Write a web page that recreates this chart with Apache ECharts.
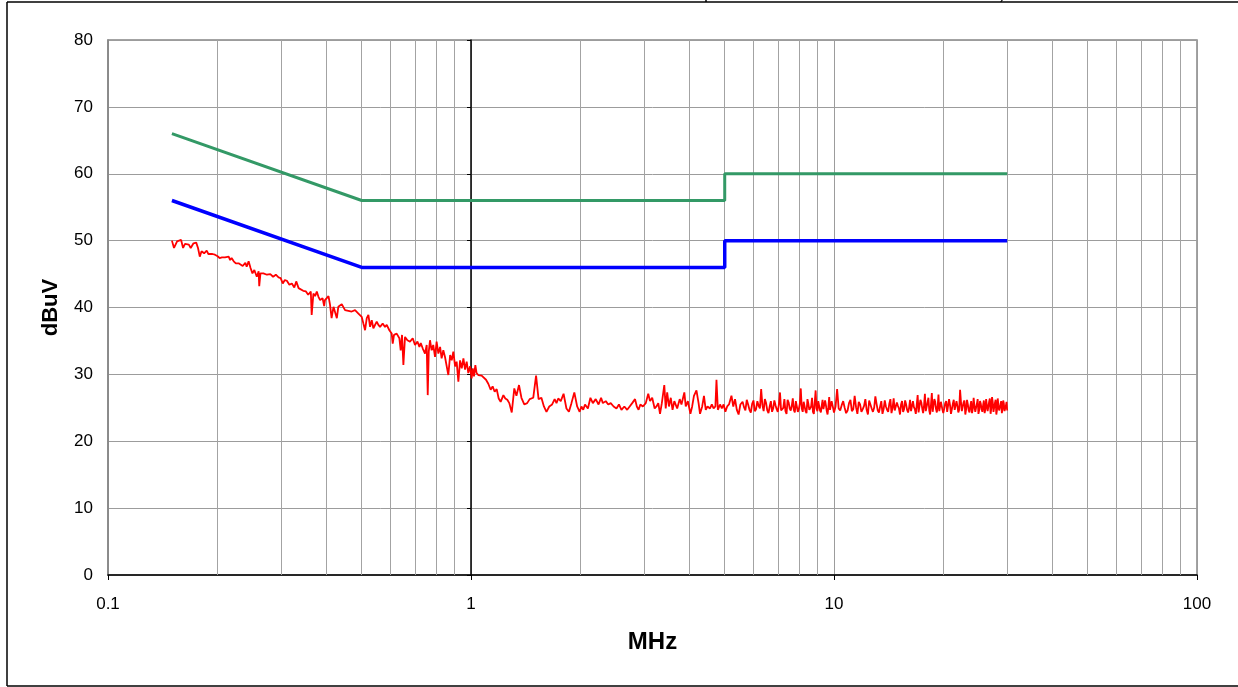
<!DOCTYPE html>
<html>
<head>
<meta charset="utf-8">
<title>dBuV vs MHz</title>
<script src="https://cdn.jsdelivr.net/npm/echarts@6/dist/echarts.min.js"></script>
<style>
    html, body { margin: 0; padding: 0; background: #fff; }
    #main { width: 1238px; height: 687px; }
</style>
</head>
<body>
<div id="main"></div>
<script>
// 轴刻度
const yMin = 0
const yMax = 80
const yStep = 10
const xMin = 0.1
const xMax = 100
const minorGrid = [0.2, 0.3, 0.4, 0.5, 0.6, 0.7, 0.8, 0.9, 2, 3, 4, 5, 6, 7, 8, 9, 20, 30, 40, 50, 60, 70, 80, 90]

// 限值线 (MHz, dBuV)
const qpLimit = [[0.15, 66], [0.5, 56], [5, 56], [5, 60], [30, 60]]
const avLimit = [[0.15, 56], [0.5, 46], [5, 46], [5, 50], [30, 50]]

// 实测曲线 0.15 - 0.44 MHz
const scanLow = [
    [0.150, 50.0], [0.152, 48.9], [0.155, 49.9], [0.159, 50.1], [0.161, 48.9], [0.163, 49.5],
    [0.167, 49.4], [0.169, 48.9], [0.172, 49.6], [0.175, 49.7], [0.177, 48.9], [0.179, 47.6],
    [0.181, 48.4], [0.184, 48.1], [0.187, 48.5], [0.189, 48.0], [0.191, 48.2], [0.194, 48.0],
    [0.197, 47.9], [0.200, 47.7], [0.203, 47.4], [0.206, 47.5], [0.210, 47.5], [0.215, 47.6],
    [0.217, 47.1], [0.219, 47.4], [0.222, 46.9], [0.225, 46.6], [0.229, 46.6], [0.231, 46.4],
    [0.235, 46.2], [0.239, 46.7], [0.241, 46.1], [0.244, 46.9], [0.245, 47.0], [0.247, 45.9],
    [0.250, 45.1], [0.253, 45.6], [0.257, 44.6], [0.260, 45.4], [0.261, 43.2], [0.263, 45.1],
    [0.268, 45.1], [0.274, 44.9], [0.280, 45.0], [0.285, 44.6], [0.290, 44.9], [0.295, 44.5],
    [0.299, 44.4], [0.303, 43.6], [0.307, 44.1], [0.311, 44.0], [0.316, 43.4], [0.321, 43.6],
    [0.326, 43.0], [0.330, 43.9], [0.335, 42.9], [0.339, 42.7], [0.345, 42.5], [0.351, 42.4],
    [0.356, 41.9], [0.362, 42.4], [0.364, 38.9], [0.368, 42.1], [0.372, 41.7], [0.376, 42.4],
    [0.380, 41.6], [0.384, 41.1], [0.390, 41.4], [0.394, 40.2], [0.396, 41.1], [0.400, 40.9],
    [0.405, 41.7], [0.409, 40.4], [0.413, 38.4], [0.418, 40.1], [0.422, 40.2], [0.427, 38.4],
    [0.431, 40.1], [0.436, 40.0]
]

// 实测曲线 0.44 - 1.3 MHz
const scanMid = [
    [0.4405, 40.5], [0.4498, 39.6], [0.4594, 39.5], [0.4692, 39.4], [0.4793, 39.6], [0.4896, 39.1],
    [0.500, 38.6], [0.5053, 37.6], [0.5107, 36.6], [0.5162, 38.4], [0.5216, 38.9], [0.5272, 37.1],
    [0.5328, 38.1], [0.5383, 36.9], [0.5499, 37.9], [0.5557, 37.4], [0.5617, 37.1], [0.5711, 37.6],
    [0.5797, 37.1], [0.5859, 37.4], [0.5958, 36.6], [0.6047, 36.1], [0.6086, 34.6], [0.6137, 35.9],
    [0.6242, 36.1], [0.6348, 35.4], [0.6402, 33.6], [0.6456, 35.9], [0.6512, 31.4], [0.658, 35.6],
    [0.668, 35.1], [0.679, 34.9], [0.691, 35.4], [0.701, 34.4], [0.712, 34.9], [0.721, 34.1],
    [0.727, 34.7], [0.736, 33.9], [0.747, 33.1], [0.755, 34.4], [0.760, 26.9], [0.765, 33.4],
    [0.771, 35.1], [0.779, 33.6], [0.787, 34.4], [0.796, 32.6], [0.804, 34.9], [0.813, 33.1],
    [0.822, 34.1], [0.830, 32.4], [0.839, 33.6], [0.848, 32.6], [0.857, 32.6], [0.866, 29.9],
    [0.876, 32.9], [0.885, 32.1], [0.894, 33.4], [0.904, 31.2], [0.913, 31.9], [0.923, 28.9],
    [0.933, 32.1], [0.943, 30.9], [0.953, 32.4], [0.963, 30.7], [0.973, 31.9], [0.983, 30.2],
    [0.994, 31.2], [1.004, 29.4], [1.011, 30.9], [1.019, 29.7], [1.028, 31.4], [1.036, 30.2],
    [1.047, 29.9], [1.057, 29.9], [1.070, 29.8], [1.081, 29.7], [1.100, 29.2], [1.116, 28.6],
    [1.133, 27.7], [1.147, 28.2], [1.162, 27.4], [1.177, 27.8], [1.192, 26.4], [1.207, 25.9],
    [1.228, 26.9], [1.243, 26.4], [1.259, 26.2], [1.275, 25.7]
]

// 实测曲线 1.3 - 5.5 MHz
const scanHigh = [
    [1.295, 24.3], [1.316, 27.9], [1.334, 26.8], [1.356, 28.4], [1.377, 26.5], [1.402, 25.5],
    [1.428, 25.7], [1.451, 26.3], [1.484, 26.5], [1.511, 29.8], [1.535, 26.3], [1.563, 26.5],
    [1.588, 25.2], [1.614, 24.4], [1.643, 25.2], [1.673, 25.5], [1.700, 26.3], [1.720, 25.7],
    [1.739, 26.4], [1.767, 26.0], [1.799, 27.1], [1.832, 24.9], [1.861, 24.4], [1.891, 25.7],
    [1.926, 27.3], [1.961, 25.2], [1.992, 24.4], [2.015, 25.2], [2.038, 24.7], [2.061, 25.5],
    [2.099, 24.9], [2.133, 26.5], [2.166, 25.7], [2.206, 26.3], [2.246, 25.5], [2.282, 26.5],
    [2.308, 25.7], [2.351, 26.0], [2.388, 25.5], [2.426, 25.7], [2.471, 25.2], [2.516, 24.9],
    [2.556, 25.5], [2.597, 24.7], [2.645, 25.2], [2.693, 24.7], [2.736, 25.2], [2.780, 25.7],
    [2.831, 26.3], [2.863, 25.2], [2.895, 24.7], [2.928, 25.5], [2.975, 25.2], [3.030, 25.7],
    [3.078, 27.1], [3.113, 26.0], [3.156, 26.5], [3.206, 24.9], [3.243, 25.2], [3.280, 25.7],
    [3.317, 24.1], [3.355, 25.7], [3.408, 28.4], [3.439, 24.9], [3.471, 27.3], [3.510, 25.2],
    [3.551, 26.5], [3.591, 24.7], [3.632, 26.0], [3.698, 24.9], [3.758, 26.3], [3.800, 25.5],
    [3.870, 27.3], [3.905, 25.2], [3.958, 26.0], [4.022, 24.1], [4.067, 25.2], [4.113, 26.8],
    [4.179, 27.6], [4.236, 25.7], [4.275, 24.1], [4.334, 25.2], [4.383, 26.8], [4.433, 24.7],
    [4.483, 25.2], [4.555, 24.9], [4.607, 25.5], [4.659, 24.9], [4.713, 25.2], [4.745, 29.2],
    [4.787, 24.7], [4.854, 25.5], [4.909, 24.9], [4.965, 25.5], [5.021, 24.4], [5.078, 25.2],
    [5.137, 25.5], [5.218, 26.8], [5.279, 25.2], [5.338, 26.3], [5.399, 24.7], [5.460, 24.0],
    [5.522, 25.5]
]

// 实测曲线 5.6 - 30 MHz (主扫描点)
const scanTop = [
    [5.6, 25.9], [5.7, 24.6], [5.8, 25.5], [5.9, 24.3], [6.0, 26.1], [6.1, 24.8], [6.2, 25.3],
    [6.3, 27.8], [6.4, 24.5], [6.5, 25.7], [6.6, 24.2], [6.7, 26.0], [6.8, 24.9], [6.9, 25.4],
    [7.0, 24.4], [7.1, 27.3], [7.2, 24.7], [7.3, 26.3], [7.4, 24.1], [7.5, 25.8], [7.6, 24.6],
    [7.7, 26.4], [7.8, 24.3], [7.9, 25.2], [8.0, 24.8], [8.1, 27.9], [8.2, 24.4], [8.3, 26.0],
    [8.4, 24.2], [8.5, 25.6], [8.6, 24.9], [8.7, 26.5], [8.8, 24.1], [8.9, 27.6], [9.0, 24.5],
    [9.1, 25.8], [9.2, 24.3], [9.3, 26.2], [9.4, 24.7], [9.5, 25.4], [9.6, 24.0], [9.7, 26.6],
    [9.8, 24.5], [9.9, 25.9], [10.0, 24.3],
    [10.2, 27.8], [10.4, 24.6], [10.6, 26.0], [10.8, 24.2], [11.0, 25.7], [11.2, 24.5], [11.4, 26.8],
    [11.6, 24.1], [11.8, 25.5], [12.0, 24.8], [12.2, 26.3], [12.4, 24.0], [12.6, 25.9], [12.8, 24.4],
    [13.0, 26.7], [13.2, 24.6], [13.4, 25.2], [13.6, 24.1], [13.8, 26.1], [14.0, 24.7], [14.2, 25.6],
    [14.4, 24.2], [14.6, 26.4], [14.8, 24.5], [15.0, 25.3], [15.2, 24.0], [15.4, 26.0], [15.6, 24.8],
    [15.8, 25.5], [16.0, 24.3], [16.2, 26.2], [16.4, 24.6], [16.6, 25.1], [16.8, 24.1], [17.0, 26.9],
    [17.2, 24.4], [17.4, 25.8], [17.6, 24.2], [17.8, 27.1], [18.0, 24.7], [18.2, 26.5], [18.4, 24.0],
    [18.6, 27.2], [18.8, 24.5], [19.0, 25.9], [19.2, 24.3], [19.4, 27.0], [19.6, 24.6], [19.8, 26.1],
    [20.0, 24.2],
    [20.25, 25.7], [20.5, 24.4], [20.75, 26.3], [21.0, 24.1], [21.25, 25.6], [21.5, 24.7], [21.75, 26.0],
    [22.0, 24.3], [22.25, 27.7], [22.5, 24.5], [22.75, 25.8], [23.0, 24.0], [23.25, 26.2], [23.5, 24.6],
    [23.75, 25.3], [24.0, 24.2], [24.25, 26.5], [24.5, 24.4], [24.75, 25.6], [25.0, 24.1], [25.25, 26.0],
    [25.5, 24.8], [25.75, 25.4], [26.0, 24.2], [26.25, 26.3], [26.5, 24.5], [26.75, 25.9], [27.0, 24.1],
    [27.25, 26.6], [27.5, 24.4], [27.75, 25.7], [28.0, 24.0], [28.25, 26.4], [28.5, 24.6], [28.75, 25.5],
    [29.0, 24.2], [29.25, 26.1], [29.5, 24.5], [29.75, 25.3], [30.0, 24.6]
]

// 实测曲线 5.6 - 30 MHz (中间扫描点)
const scanTopFill = [
    [5.65, 25.1], [5.75, 26.2], [5.85, 24.7], [5.95, 25.6], [6.05, 24.5], [6.15, 26.0], [6.25, 24.9],
    [6.35, 25.4], [6.45, 26.3], [6.55, 24.6], [6.65, 25.2], [6.75, 24.4], [6.85, 26.1], [6.95, 24.8],
    [7.05, 25.5], [7.15, 24.6], [7.25, 25.0], [7.35, 24.5], [7.45, 26.2], [7.55, 24.9], [7.65, 25.3],
    [7.75, 24.7], [7.85, 26.0], [7.95, 24.4], [8.05, 25.6], [8.15, 24.9], [8.25, 25.9], [8.35, 24.5],
    [8.45, 26.3], [8.55, 24.7], [8.65, 25.2], [8.75, 24.4], [8.85, 25.8], [8.95, 24.9], [9.05, 26.0],
    [9.15, 24.6], [9.25, 25.3], [9.35, 24.8], [9.45, 26.1], [9.55, 24.5], [9.65, 25.1], [9.75, 24.7],
    [9.85, 26.0], [9.95, 24.9],
    [10.1, 25.2], [10.3, 24.9], [10.5, 25.4], [10.7, 25.0], [10.9, 24.6], [11.1, 26.2], [11.3, 24.8],
    [11.5, 25.1], [11.7, 25.9], [11.9, 24.4], [12.1, 25.3], [12.3, 24.7], [12.5, 26.1], [12.7, 24.9],
    [12.9, 25.0], [13.1, 25.6], [13.3, 24.3], [13.5, 26.0], [13.7, 24.8], [13.9, 25.2], [14.1, 24.4],
    [14.3, 26.3], [14.5, 25.0], [14.7, 24.6], [14.9, 25.8], [15.1, 24.9], [15.3, 25.5], [15.5, 24.4],
    [15.7, 26.1], [15.9, 24.7], [16.1, 25.0], [16.3, 24.5], [16.5, 26.0], [16.7, 24.8], [16.9, 25.4],
    [17.1, 24.3], [17.3, 26.2], [17.5, 24.9], [17.7, 25.3], [17.9, 24.5], [18.1, 25.8], [18.3, 24.6],
    [18.5, 25.5], [18.7, 24.4], [18.9, 26.3], [19.1, 24.8], [19.3, 25.2], [19.5, 24.5], [19.7, 25.9],
    [19.9, 24.7],
    [20.125, 24.9], [20.375, 26.0], [20.625, 24.6], [20.875, 25.4], [21.125, 24.8], [21.375, 26.2],
    [21.625, 24.5], [21.875, 25.3], [22.125, 24.7], [22.375, 25.9], [22.625, 24.4], [22.875, 26.1],
    [23.125, 24.8], [23.375, 25.5], [23.625, 24.3], [23.875, 26.0], [24.125, 24.9], [24.375, 25.2],
    [24.625, 24.5], [24.875, 26.3], [25.125, 24.7], [25.375, 25.6], [25.625, 24.4], [25.875, 26.1],
    [26.125, 24.8], [26.375, 25.3], [26.625, 24.6], [26.875, 26.4], [27.125, 24.9], [27.375, 25.8],
    [27.625, 24.3], [27.875, 26.2], [28.125, 24.7], [28.375, 25.4], [28.625, 24.5], [28.875, 26.0],
    [29.125, 24.8], [29.375, 25.6], [29.625, 24.4], [29.875, 25.9]
]

function emiChart() {
    const box = document.querySelector('#main')
    const myChart = echarts.init(box, null, { renderer: 'canvas' })
    const font = '"Liberation Sans", Arial, sans-serif'
    const top = scanTop.concat(scanTopFill).sort((a, b) => a[0] - b[0])
    const scan = scanLow.concat(scanMid, scanHigh, top)
    const option = {
        animation: false,
        backgroundColor: '#fff',
        grid: {
            left: 108,
            right: 41,
            top: 40,
            bottom: 112,
            show: true,
            borderColor: '#858585',
            borderWidth: 1.5
        },
        xAxis: {
            type: 'log',
            logBase: 10,
            min: xMin,
            max: xMax,
            name: 'MHz',
            nameLocation: 'middle',
            nameGap: 55,
            nameTextStyle: { fontFamily: font, fontSize: 24, fontWeight: 'bold', color: '#000' },
            axisLine: { onZero: false, lineStyle: { color: '#000', width: 1.5 } },
            axisTick: { show: true, length: 5, lineStyle: { color: '#000' } },
            axisLabel: { fontFamily: font, fontSize: 17, color: '#000', margin: 21 },
            splitLine: { show: true, lineStyle: { color: '#9c9c9c', width: 1 } }
        },
        yAxis: [
            {
                type: 'value',
                min: yMin,
                max: yMax,
                interval: yStep,
                name: 'dBuV',
                nameLocation: 'middle',
                nameGap: 46,
                nameRotate: 90,
                nameTextStyle: { fontFamily: font, fontSize: 22, fontWeight: 'bold', color: '#000' },
                axisLine: { show: true, onZero: false, lineStyle: { color: '#858585', width: 1.5 } },
                axisTick: { show: false },
                axisLabel: { fontFamily: font, fontSize: 17, color: '#000', margin: 15 },
                splitLine: { show: true, lineStyle: { color: '#9c9c9c', width: 1 } }
            },
            {
                // Excel 样式: 纵轴在 1 MHz 处穿过
                type: 'value',
                min: yMin,
                max: yMax,
                interval: yStep,
                position: 'left',
                offset: -363,
                axisLine: { show: true, onZero: false, lineStyle: { color: '#000', width: 1.5 } },
                axisTick: { show: true, length: 4, lineStyle: { color: '#000' } },
                axisLabel: { show: false },
                splitLine: { show: false }
            }
        ],
        series: [
            {
                // 次网格线
                type: 'line',
                data: [],
                z: 1,
                silent: true,
                markLine: {
                    z: 1,
                    silent: true,
                    animation: false,
                    symbol: ['none', 'none'],
                    label: { show: false },
                    lineStyle: { color: '#a3a3a3', width: 1, type: 'solid' },
                    data: minorGrid.map(v => ({ xAxis: v }))
                }
            },
            {
                name: 'QP',
                type: 'line',
                data: qpLimit,
                showSymbol: false,
                lineStyle: { color: '#339966', width: 3 },
                z: 4
            },
            {
                name: 'AV',
                type: 'line',
                data: avLimit,
                showSymbol: false,
                lineStyle: { color: '#0000ff', width: 3.5 },
                z: 4
            },
            {
                name: 'Scan',
                type: 'line',
                data: scan,
                showSymbol: false,
                lineStyle: { color: '#ff0000', width: 1.8 },
                z: 3
            }
        ],
        graphic: [
            { type: 'line', shape: { x1: 7, y1: 2, x2: 1238, y2: 2 }, style: { stroke: '#000', lineWidth: 1.5 } },
            { type: 'line', shape: { x1: 7, y1: 2, x2: 7, y2: 686 }, style: { stroke: '#000', lineWidth: 1.5 } },
            { type: 'line', shape: { x1: 7, y1: 686, x2: 1238, y2: 686 }, style: { stroke: '#000', lineWidth: 1.5 } },
            { type: 'line', shape: { x1: 706, y1: 0, x2: 706, y2: 2 }, style: { stroke: '#000', lineWidth: 1.5 } },
            { type: 'text', left: 1000, top: -13, style: { text: ')', font: '16px "Liberation Sans"', fill: '#000' } }
        ]
    }
    myChart.setOption(option)
}
emiChart()
</script>
</body>
</html>
